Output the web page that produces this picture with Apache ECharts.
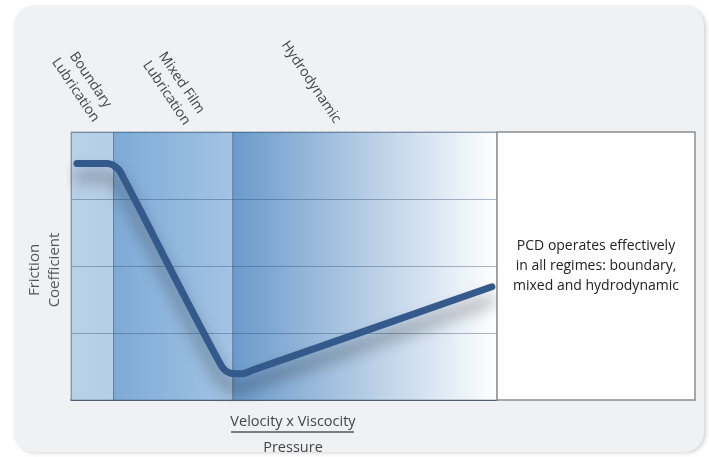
<!DOCTYPE html>
<html>
<head>
<meta charset="utf-8">
<script src="https://cdn.jsdelivr.net/npm/echarts@6/dist/echarts.min.js"></script>
<style>
  html, body { margin: 0; padding: 0; background: #fff; }
  #chart { width: 709px; height: 457px; }
</style>
</head>
<body>
<div id="chart"></div>
<script>
// curve (x: 0-100 across the plot, y: friction 0-4)
const curveX = [1.4, 8.5, 11, 12.6, 35.2, 37.5, 40, 42.8, 98.8]
const curveY = [3.53, 3.53, 3.45, 3.28, 0.52, 0.40, 0.39, 0.45, 1.69]

// regime bands along x
const bandNames = ['Boundary\nLubrication', 'Mixed Film\nLubrication', 'Hydrodynamic']
const bandEdges = [0, 10, 38, 100]

const yTicks = [0, 1, 2, 3, 4]

const chart = echarts.init(document.getElementById('chart'))

const grad = (a, b) => new echarts.graphic.LinearGradient(0, 0, 1, 0, [
  { offset: 0, color: a },
  { offset: 1, color: b }
])
const bandColors = [
  grad('#b9d1e8', '#b7cfe6'),
  grad('#7eaad6', '#a3c4e4'),
  grad('#6a9acb', '#ffffff')
]

const font = '"Open Sans", sans-serif'
const deg = Math.PI / 180
const labelPos = [[83, 85], [174, 88], [311, 82]]

chart.setOption({
  animation: false,
  grid: { left: 71, top: 132, width: 426, height: 268 },
  xAxis: {
    type: 'value',
    min: 0,
    max: 100,
    axisLine: { show: true, onZero: false, lineStyle: { color: '#777', width: 2 } },
    axisTick: { show: false },
    axisLabel: { show: false },
    splitLine: { show: false }
  },
  yAxis: {
    type: 'value',
    min: yTicks[0],
    max: yTicks[yTicks.length - 1],
    interval: 1,
    z: 2,
    axisLine: { show: true, lineStyle: { color: '#8a97a6', width: 1 } },
    axisTick: { show: false },
    axisLabel: { show: false },
    splitLine: { show: true, lineStyle: { color: 'rgba(40,70,110,0.38)', width: 1 } }
  },
  graphic: [
    {
      type: 'rect', z: -10, silent: true,
      shape: { x: 14, y: 6, width: 690, height: 446, r: 20 },
      style: { fill: '#f0f1f3', shadowColor: 'rgba(0,0,0,0.18)', shadowBlur: 4, shadowOffsetX: 2, shadowOffsetY: 1 }
    },
    {
      type: 'rect', z: 10,
      shape: { x: 497, y: 132, width: 198, height: 268 },
      style: { fill: '#ffffff', stroke: '#8c8c8c', lineWidth: 1.5 }
    },
    {
      type: 'text', z: 11, x: 596, y: 266,
      style: {
        text: 'PCD operates effectively\nin all regimes: boundary,\nmixed and hydrodynamic',
        font: '14px ' + font, fill: '#222', align: 'center', verticalAlign: 'middle', lineHeight: 20
      }
    },
    {
      type: 'text', z: 11, x: 45, y: 270, rotation: 90 * deg,
      style: {
        text: 'Friction\nCoefficient', font: '15px ' + font, fill: '#555',
        align: 'center', verticalAlign: 'middle', lineHeight: 20
      }
    },
    {
      type: 'text', z: 11, x: 293, y: 422,
      style: { text: 'Velocity x Viscocity', font: '14.5px ' + font, fill: '#444', align: 'center', verticalAlign: 'middle' }
    },
    {
      type: 'line', z: 11,
      shape: { x1: 231, y1: 432, x2: 354, y2: 432 },
      style: { stroke: '#555', lineWidth: 1.5 }
    },
    {
      type: 'text', z: 11, x: 293, y: 448,
      style: { text: 'Pressure', font: '14.5px ' + font, fill: '#444', align: 'center', verticalAlign: 'middle' }
    }
  ].concat(bandNames.map((n, i) => ({
    type: 'text', z: 11, x: labelPos[i][0], y: labelPos[i][1], rotation: -56 * deg,
    style: { text: n, font: '14px ' + font, fill: '#444', align: 'center', verticalAlign: 'middle', lineHeight: 18 }
  }))),
  series: [
    {
      type: 'line',
      z: 1,
      data: [],
      markArea: {
        silent: true,
        data: bandNames.map((n, i) => [
          { xAxis: bandEdges[i], yAxis: yTicks[0], itemStyle: { color: bandColors[i], borderColor: 'rgba(60,80,110,0.45)', borderWidth: 1 } },
          { xAxis: bandEdges[i + 1], yAxis: yTicks[yTicks.length - 1] }
        ])
      }
    },
    {
      type: 'line',
      z: 5,
      smooth: 0.35,
      symbol: 'none',
      data: curveX.map((x, i) => [x, curveY[i]]),
      lineStyle: {
        color: '#34598b',
        width: 7,
        cap: 'round',
        shadowColor: 'rgba(0,0,0,0.45)',
        shadowBlur: 16,
        shadowOffsetY: 13
      }
    }
  ]
})
</script>
</body>
</html>
